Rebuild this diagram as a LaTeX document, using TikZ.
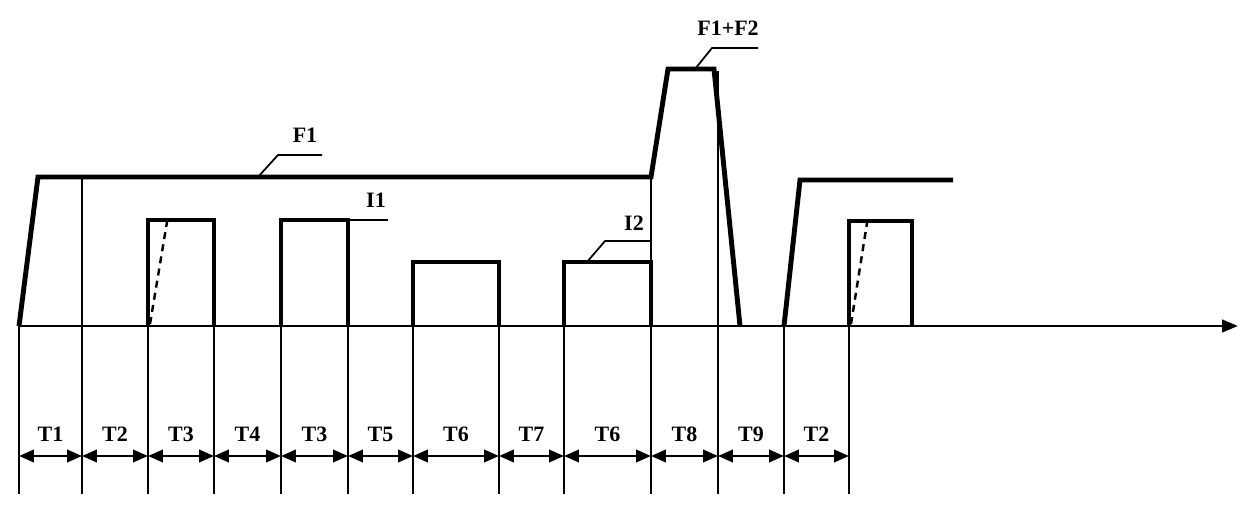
\documentclass[tikz,border=0pt]{standalone}
\usepackage{fontspec}
\setmainfont{Liberation Serif}
\usepackage{tikz}
\usetikzlibrary{arrows.meta}

\begin{document}
\begin{tikzpicture}[
    x=0.02cm, y=0.02cm,
    wave/.style={line width=2.8pt, line join=miter, miter limit=2},
    tickline/.style={line width=1.1pt},
    leader/.style={line width=1pt},
    ramp/.style={line width=1.4pt, dash pattern=on 4pt off 3pt},
    dim/.style={{Triangle[length=8.5pt, width=7pt]}-{Triangle[length=8.5pt, width=7pt]},
                line width=1.6pt},
    lbl/.style={font=\fontsize{12.5}{14}\selectfont\bfseries, inner sep=1pt}
  ]
    \useasboundingbox (0,-184) rectangle (1240,326);
    % time axis
    \draw[line width=1.7pt, -{Triangle[length=9pt, width=7pt]}] (18,0) -- (1238,0);
    % interval boundaries
    \foreach \x [count=\i] in {19,82,148,214,281,348,413,499,564,651,718,784,849} {
      \coordinate (t\i) at (\x,0);
      \coordinate (d\i) at (\x,-130);
      \draw[tickline] (t\i) -- ++(0,-168);
    }
    \draw[tickline] (t2) -- ++(0,149);
    \draw[tickline] (t10) -- ++(0,149);
    \draw[tickline] (t11) -- ++(0,255);
    % waveform
    \draw[wave] (19,0) -- (38,149) -- (651,149) -- (668,257) -- (714,257) -- (740,0);
    \draw[wave] (784,0) -- (800,146) -- (953,146);
    \draw[wave] (148,0) -- (148,106) -- (214,106) -- (214,0);
    \draw[wave] (281,0) -- (281,106) -- (348,106) -- (348,0);
    \draw[wave] (413,0) -- (413,64) -- (499,64) -- (499,0);
    \draw[wave] (564,0) -- (564,64) -- (651,64) -- (651,0);
    \draw[wave] (849,0) -- (849,105) -- (912,105) -- (912,0);
    \draw[ramp] (150,2) -- (167,104);
    \draw[ramp] (851,2) -- (867,103);
    % labels
    \node[lbl] (lblF1) at (305,191) {F1};
    \node[lbl] (lblI1) at (376,126) {I1};
    \node[lbl] (lblI2) at (634,103) {I2};
    \node[lbl] (lblF12) at (728,298) {F1+F2};
    \draw[leader] (258,149) -- (278,171) -- (322,171);
    \draw[leader] (348,106) -- (388,106);
    \draw[leader] (587,64) -- (605,85) -- (651,85);
    \draw[leader] (695,257) -- (712,278) -- (758,278);
    % durations
    \foreach \a/\b/\txt in {1/2/T1, 2/3/T2, 3/4/T3, 4/5/T4, 5/6/T3, 6/7/T5,
                            7/8/T6, 8/9/T7, 9/10/T6, 10/11/T8, 11/12/T9, 12/13/T2}
      \draw[dim] (d\a) -- node[lbl, yshift=0.44cm] (lbl\a) {\txt} (d\b);
  \end{tikzpicture}
\end{document}
